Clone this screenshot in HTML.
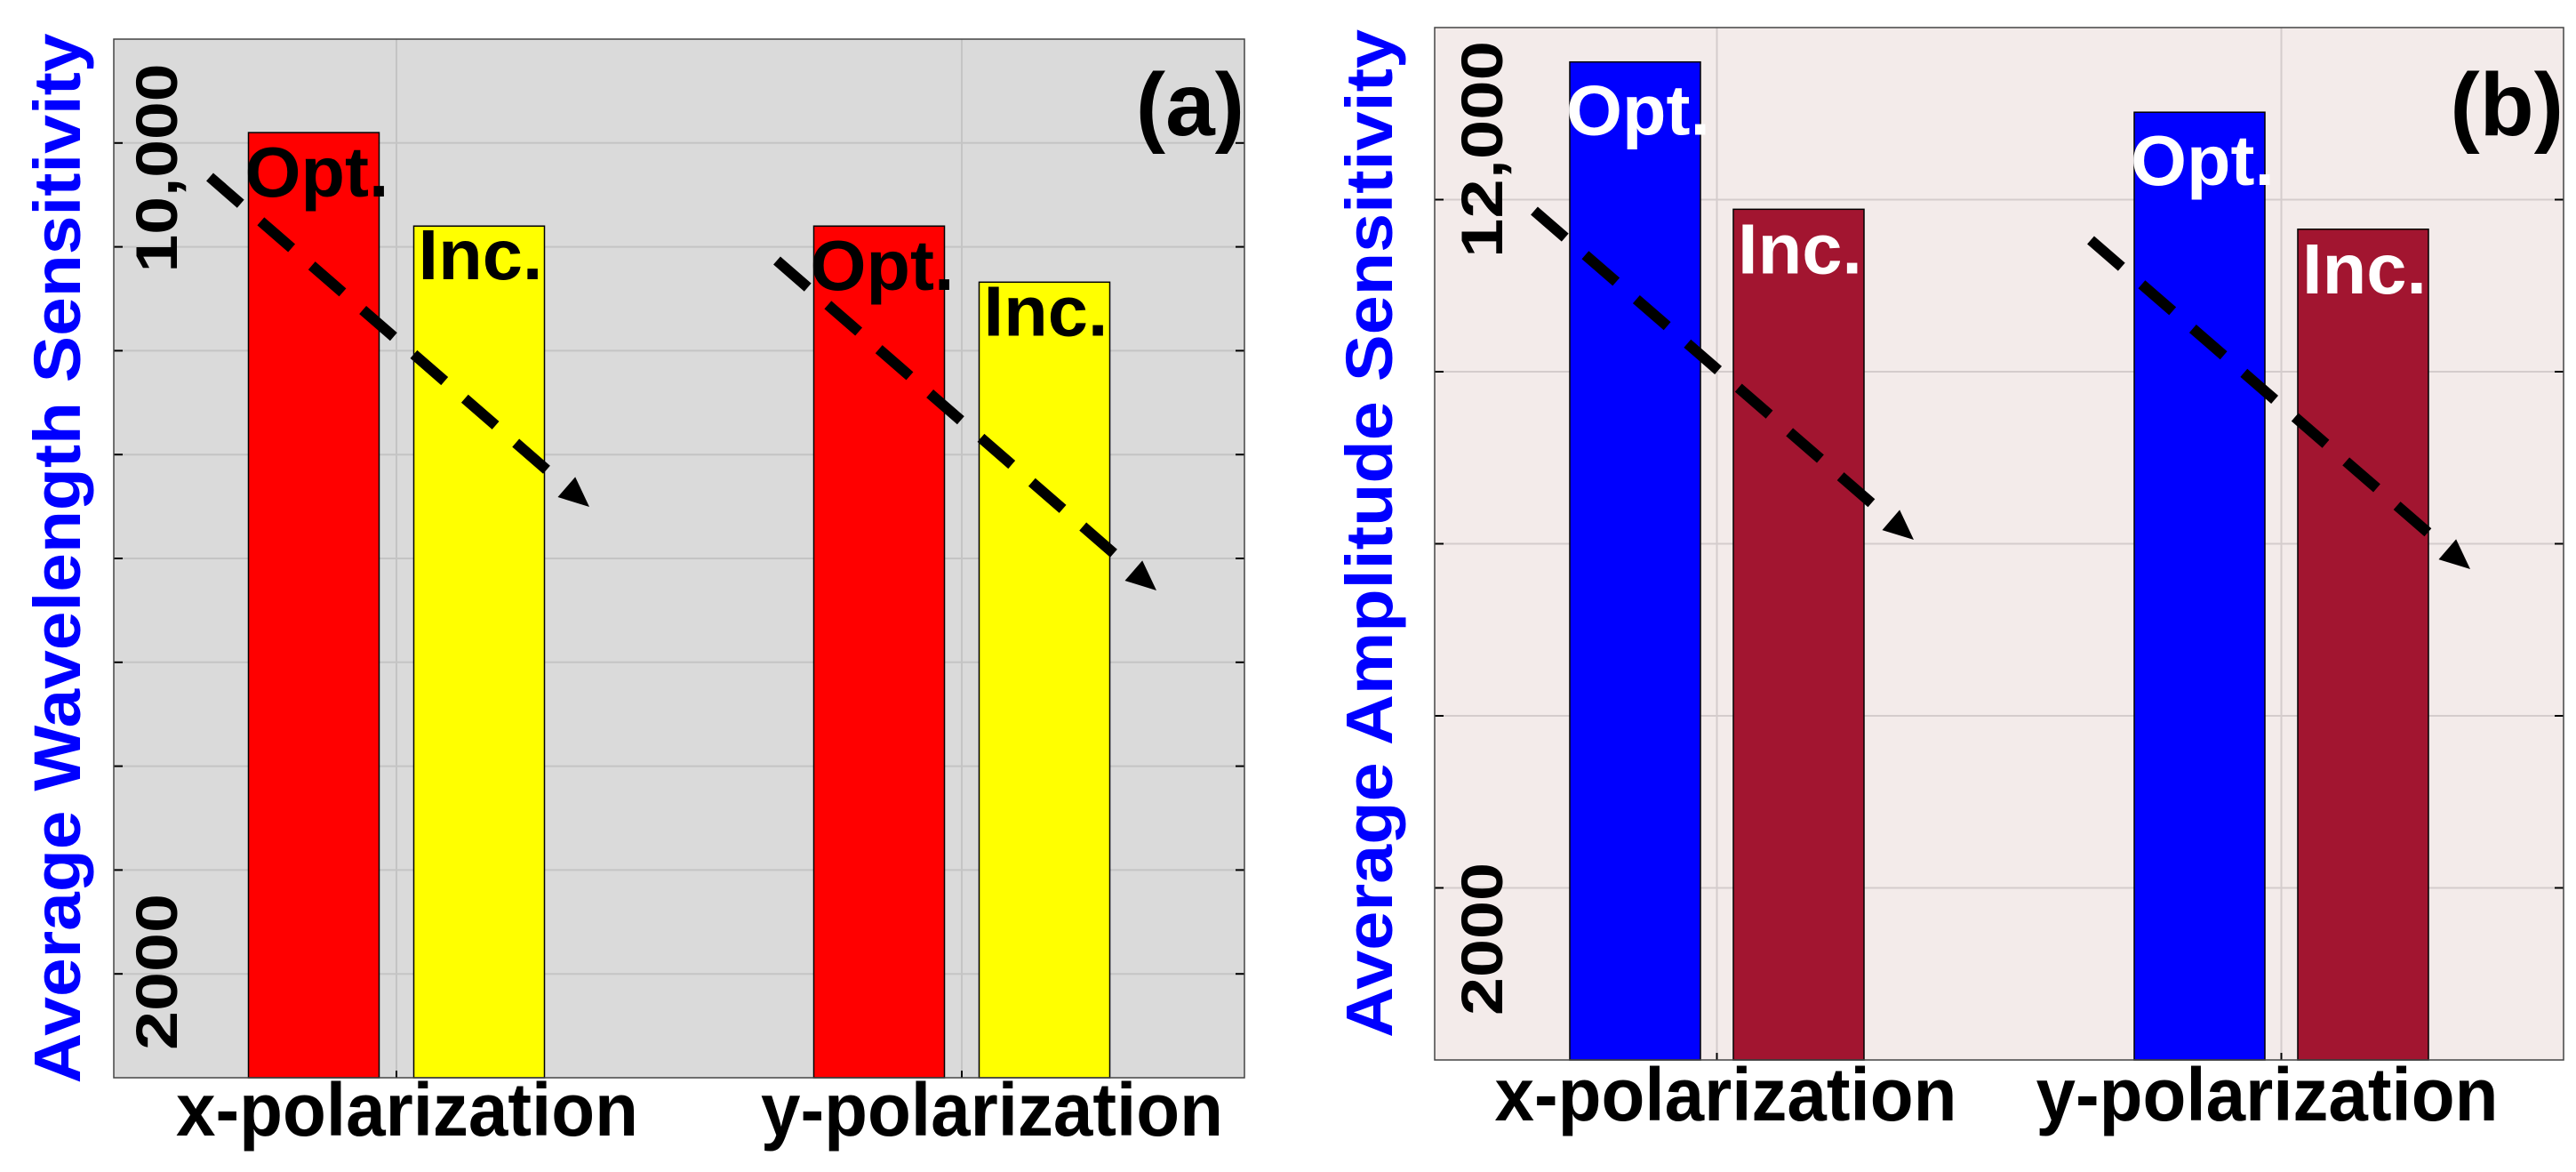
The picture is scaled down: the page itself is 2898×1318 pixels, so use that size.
<!DOCTYPE html>
<html><head><meta charset="utf-8"><style>
html,body{margin:0;padding:0;background:#fff;overflow:hidden;}
svg{display:block;font-family:"Liberation Sans",sans-serif;font-weight:bold;}
</style></head><body>
<svg id="fig" width="2898" height="1318" viewBox="0 0 2898 1318" xmlns="http://www.w3.org/2000/svg"></svg>
<script>
const categories = ["x-polarization", "y-polarization"];
const seriesNames = ["Opt.", "Inc."];
const waveOpt = [10100, 9200];
const waveInc = [9200, 8660];
const ampOpt = [14000, 13270];
const ampInc = [11860, 11570];
const waveTickLabels = ["2000", "10,000"];
const waveTickValues = [2000, 10000];
const ampTickLabels = ["2000", "12,000"];
const ampTickValues = [2000, 12000];

const NS = "http://www.w3.org/2000/svg";
const svg = document.getElementById("fig");
function mk(tag, attrs, parent) {
  const e = document.createElementNS(NS, tag);
  for (const k in attrs) e.setAttribute(k, attrs[k]);
  (parent || svg).appendChild(e);
  return e;
}

function panel(cfg) {
  const g = mk("g", {});
  
  
  const L = cfg.left, R = cfg.right, T = cfg.top, B = cfg.bottom;
  const y = v => B - (v - cfg.ymin) / (cfg.ymax - cfg.ymin) * (B - T);
  const x = i => L + (i + 0.5) / 2 * (R - L);
  const bg = mk("rect", {x: L, y: T, width: R - L, height: B - T, fill: cfg.bg}, g);
  
  
  for (let v = cfg.ymin + cfg.step; v < cfg.ymax - 1; v += cfg.step) {
    const gl = mk("line", {x1: L, x2: R, y1: y(v), y2: y(v), stroke: cfg.grid, "stroke-width": 2}, g);
    
    
    mk("line", {x1: L, x2: L + 10, y1: y(v), y2: y(v), stroke: "#000", "stroke-width": 2}, g);
    mk("line", {x1: R - 10, x2: R, y1: y(v), y2: y(v), stroke: "#000", "stroke-width": 2}, g);
  }
  categories.forEach((c, i) => {
    const gl = mk("line", {x1: x(i), x2: x(i), y1: T, y2: B, stroke: cfg.grid, "stroke-width": 2}, g);
    
    
    mk("line", {x1: x(i), x2: x(i), y1: B - 8, y2: B, stroke: "#000", "stroke-width": 2}, g);
  });
  const bw = cfg.barW;
  const sets = [cfg.opt, cfg.inc];
  const cols = [cfg.c1, cfg.c2];
  const off = [-cfg.off, cfg.off];
  categories.forEach((c, i) => {
    sets.forEach((s, k) => {
      const cx = x(i) + off[k];
      const top = y(s[i]);
      const b = mk("rect", {x: cx - bw / 2, y: top, width: bw, height: B - top, fill: cols[k], stroke: "#000", "stroke-width": 1.5}, g);
      
      
      const t = mk("text", {x: cx - bw / 2 + (k ? 5 : -4), y: top + cfg.lblOff[k], "font-size": 80, fill: cfg.lblColor, textLength: k ? 140 : 162, lengthAdjust: "spacingAndGlyphs"}, g);
      t.textContent = seriesNames[k];
      
      
    });
    const xl = mk("text", {x: x(i) + cfg.xlDx[i], y: cfg.xlY, "font-size": 84, "text-anchor": "middle", fill: "#000", textLength: 520, lengthAdjust: "spacingAndGlyphs"}, g);
    xl.textContent = c;
    
    
  });
  cfg.tickVals.forEach((v, j) => {
    const lab = cfg.tickLabs[j];
    const cx = cfg.tickX, cy = cfg.tickCY[j];
    const t = mk("text", {x: cx, y: cy, "font-size": 66, "text-anchor": "middle", fill: "#000", transform: `rotate(-90 ${cx} ${cy})`, textLength: cfg.tickLen[j], lengthAdjust: "spacingAndGlyphs"}, g);
    t.textContent = lab;
    
    
  });
  cfg.arrows.forEach(a => {
    const [x1, y1, x2, y2] = a;
    const ang = Math.atan2(y2 - y1, x2 - x1);
    const hx = x2 - 34 * Math.cos(ang), hy = y2 - 34 * Math.sin(ang);
    const ln = mk("line", {x1, y1, x2: hx - 10 * Math.cos(ang), y2: hy - 10 * Math.sin(ang), stroke: "#000", "stroke-width": 12, "stroke-dasharray": "46 30"}, g);
    
    
    const px = -Math.sin(ang), py = Math.cos(ang);
    mk("polygon", {points: `${x2},${y2} ${hx + 15 * px},${hy + 15 * py} ${hx - 15 * px},${hy - 15 * py}`, fill: "#000"}, g);
  });
  const fr = mk("rect", {x: L, y: T, width: R - L, height: B - T, fill: "none", stroke: "#444", "stroke-width": 1.5}, g);
  
  
  const pl = mk("text", {x: cfg.plX, y: cfg.plY, "font-size": 100, fill: "#000", "text-anchor": "end"}, g);
  pl.textContent = cfg.panelLabel;
  
  
  const yt = mk("text", {x: cfg.ytX, y: cfg.ytY, "font-size": 74, fill: "#0000ff", "text-anchor": "middle", transform: `rotate(-90 ${cfg.ytX} ${cfg.ytY})`, textLength: cfg.ytLen, lengthAdjust: "spacingAndGlyphs"}, g);
  yt.textContent = cfg.ytitle;
  
  
}

panel({name: "panel-a", left: 128, right: 1400, top: 44, bottom: 1212, ymin: 1000, ymax: 11000, step: 1000,
  bg: "#dadada", grid: "#c4c4c4", opt: waveOpt, inc: waveInc, c1: "#ff0000", c2: "#ffff00", barW: 147, off: 93,
  lblColor: "#000", lblOff: [72, 60], xlY: 1277, xlDx: [12, 34], tickVals: waveTickValues, tickLabs: waveTickLabels,
  tickX: 199, tickCY: [1093, 189], tickLen: [176, 235], arrows: [[236, 199, 663, 570], [874, 293, 1301, 664]],
  plX: 1400, plY: 152, panelLabel: "(a)", ytX: 90, ytY: 628, ytLen: 1181, ytitle: "Average Wavelength Sensitivity"});
panel({name: "panel-b", left: 1614, right: 2884, top: 31, bottom: 1192, ymin: -500, ymax: 14500, step: 2500,
  bg: "#f3ebea", grid: "#d4cccc", opt: ampOpt, inc: ampInc, c1: "#0000ff", c2: "#a21530", barW: 147, off: 92,
  lblColor: "#fff", lblOff: [82, 72], xlY: 1260, xlDx: [10, -16], tickVals: ampTickValues, tickLabs: ampTickLabels,
  tickX: 1690, tickCY: [1056, 168], tickLen: [172, 244], arrows: [[1726, 237, 2153, 607], [2352, 270, 2779, 640]],
  plX: 2884, plY: 152, panelLabel: "(b)", ytX: 1566, ytY: 600, ytLen: 1134, ytitle: "Average Amplitude Sensitivity"});
</script>
</body></html>
